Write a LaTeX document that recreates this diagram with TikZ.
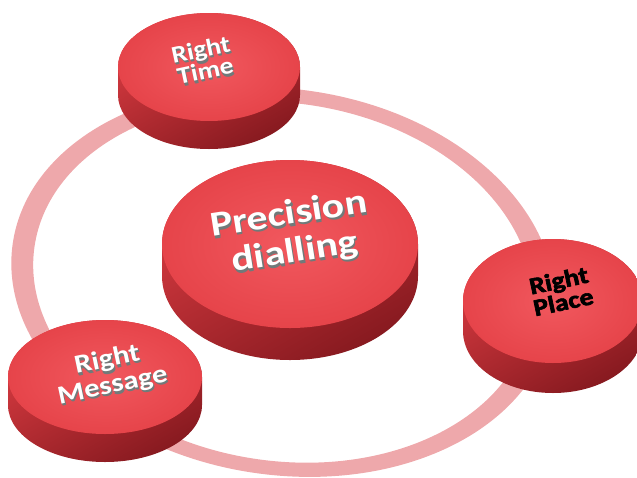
\documentclass[tikz,border=0pt]{standalone}
\usepackage{fontspec}
\setmainfont{Carlito}
\newfontfamily\placefont{Carlito Bold}[FakeBold=2.5]
\definecolor{ringpink}{RGB}{238,168,171}
\definecolor{facein}{RGB}{241,88,94}
\definecolor{faceout}{RGB}{230,68,74}
\definecolor{sidelight}{RGB}{218,60,66}
\definecolor{sidedark}{RGB}{136,26,32}
\definecolor{txtshade}{RGB}{112,122,122}

\begin{document}
\begin{tikzpicture}[x=1pt, y=-1pt,
    side/.style={top color=sidelight, bottom color=sidedark, shading angle=30},
    face/.style={inner color=facein, outer color=faceout},
    lbl/.style={align=center, inner sep=0pt, text=white},
    shadowlbl/.style={lbl, text=txtshade},
    smalltxt/.style={font=\fontsize{24}{22}\selectfont\bfseries, rotate=12, xscale=1.15},
    msgtxt/.style={font=\fontsize{26}{26}\selectfont\bfseries, rotate=12, xscale=1.18},
    bigtxt/.style={font=\fontsize{35}{38}\selectfont\bfseries, rotate=9, xscale=1.2}
]
\clip (0,0) rectangle (637,477);

% ring behind the buttons
\begin{scope}[shift={(283,282)}, rotate=-8]
  \fill[ringpink, even odd rule] (0,0) ellipse [x radius=273, y radius=193]
                                 (0,0) ellipse [x radius=251, y radius=179];
\end{scope}

% buttons: centre x / centre y / x radius / y radius / depth
\foreach \cx/\cy/\rx/\ry/\h in {209/67/91/54/28, 290/244/128/84/32, 553/301/90/62/30, 105/377/97/57/28} {
  \shade[side] (\cx-\rx,\cy) -- ++(0,\h)
      arc[start angle=180, end angle=0, x radius=\rx, y radius=\ry] -- ++(0,-\h)
      arc[start angle=0, end angle=-180, x radius=\rx, y radius=\ry] -- cycle;
  \shade[face] (\cx,\cy) ellipse [x radius=\rx, y radius=\ry];
}

% labels
\foreach \s in {2,1} {
  \node[shadowlbl, smalltxt] (time-sh\s) at (203+0.6*\s,60+1.2*\s) {Right\\Time};
  \node[shadowlbl, bigtxt] (prec-sh\s) at (292+0.6*\s,234+1.2*\s) {Precision\\dialling};
  \node[shadowlbl, msgtxt] (msg-sh\s) at (110+0.6*\s,373+1.2*\s) {Right\\Message};
}
\node[lbl, smalltxt] (time) at (203,60) {Right\\Time};
\node[lbl, bigtxt] (prec) at (292,234) {Precision\\dialling};
\node[lbl, msgtxt] (msg) at (110,373) {Right\\Message};
\node[lbl, smalltxt, text=black, font=\fontsize{24}{22}\selectfont\placefont] (place) at (561,291) {Right\\Place};
\end{tikzpicture}
\end{document}
